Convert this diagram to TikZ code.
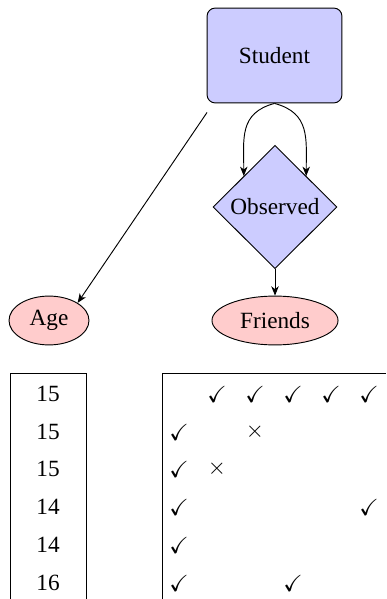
\documentclass[tikz,border=0pt]{standalone}
\usepackage{amssymb}
\usepackage{fontspec}
\setmainfont{Liberation Serif}
\usetikzlibrary{shapes.geometric,arrows.meta}
\tikzset{
  entity/.style={draw, rounded corners=3.5pt, fill=blue!20, minimum width=58pt, minimum height=40.8pt, inner sep=0pt},
  relation/.style={draw, diamond, aspect=1, fill=blue!20, minimum width=53.3pt, minimum height=53pt, inner sep=0pt},
  attr/.style={draw, ellipse, fill=red!20, minimum height=21pt, inner sep=0pt},
  cell/.style={inner sep=0pt},
  conn/.style={-{Stealth[length=4pt,width=3.2pt,inset=1.2pt]}},
  tab/.style={line width=0.4pt}
}
\begin{document}
\begin{tikzpicture}[x=0.43pt,y=-0.43pt]
\useasboundingbox (0,0) rectangle (386,599);
\node[entity] (student) at (274.5,55.5) {Student};
\node[relation] (observed) at (275,207) {Observed};
\node[attr, minimum width=34.4pt] (age) at (49,320.5) {Age};
\node[attr, minimum width=54.2pt] (friends) at (275,320.5) {Friends};

\draw[conn, shorten <=4.7pt] (student.218.5) -- (age.north east);
\draw[conn] (student.south) to[out=195,in=90,looseness=1.2] (observed.north west);
\draw[conn] (student.south) to[out=-15,in=90,looseness=1.2] (observed.north east);
\draw[conn] (observed.south) -- (friends.north);

% left table
\coordinate (lt1) at (10,599);
\coordinate (lt2) at (10,373);
\coordinate (lt3) at (86,373);
\coordinate (lt4) at (86,599);
\draw[tab] (lt1) -- (lt2) -- (lt3) -- (lt4);
\node[cell] (a1) at (48,394) {15};
\node[cell] (a2) at (48,432) {15};
\node[cell] (a3) at (48,469) {15};
\node[cell] (a4) at (48,507) {14};
\node[cell] (a5) at (48,545) {14};
\node[cell] (a6) at (48,583) {16};

% right table
\coordinate (rt1) at (162,599);
\coordinate (rt2) at (162,373);
\coordinate (rt3) at (386,373);
\draw[tab] (rt1) -- (rt2) -- (rt3);
\node[cell] (m01) at (217,394) {$\checkmark$};
\node[cell] (m02) at (255,394) {$\checkmark$};
\node[cell] (m03) at (293,394) {$\checkmark$};
\node[cell] (m04) at (331,394) {$\checkmark$};
\node[cell] (m05) at (369,394) {$\checkmark$};
\node[cell] (m10) at (179,432) {$\checkmark$};
\node[cell] (m12) at (255,432) {$\times$};
\node[cell] (m20) at (179,469) {$\checkmark$};
\node[cell] (m21) at (217,469) {$\times$};
\node[cell] (m30) at (179,507) {$\checkmark$};
\node[cell] (m35) at (369,507) {$\checkmark$};
\node[cell] (m40) at (179,545) {$\checkmark$};
\node[cell] (m50) at (179,583) {$\checkmark$};
\node[cell] (m53) at (293,583) {$\checkmark$};
\end{tikzpicture}
\end{document}
